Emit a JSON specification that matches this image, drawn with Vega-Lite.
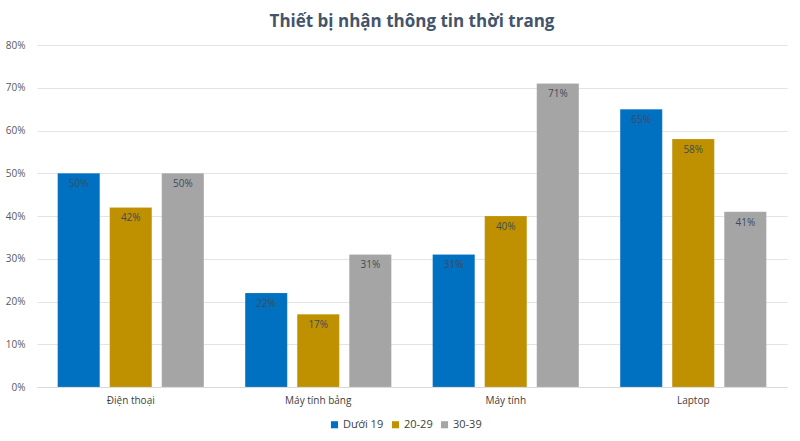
{
  "$schema": "https://vega.github.io/schema/vega-lite/v6.json",
  "autosize": "none",
  "width": 750,
  "height": 342,
  "padding": {"left": 37, "top": 45, "right": 13, "bottom": 54},
  "background": "white",
  "title": {
    "text": "Thiết bị nhận thông tin thời trang",
    "font": "Open Sans",
    "fontSize": 17,
    "fontWeight": "bold",
    "color": "#44546A",
    "anchor": "middle",
    "frame": "group",
    "offset": 9
  },
  "config": {
    "view": {"stroke": null},
    "font": "Open Sans"
  },
  "data": {
    "values": [
      {"device": "Điện thoại", "group": "Dưới 19", "value": 0.50},
      {"device": "Điện thoại", "group": "20-29", "value": 0.42},
      {"device": "Điện thoại", "group": "30-39", "value": 0.50},
      {"device": "Máy tính bảng", "group": "Dưới 19", "value": 0.22},
      {"device": "Máy tính bảng", "group": "20-29", "value": 0.17},
      {"device": "Máy tính bảng", "group": "30-39", "value": 0.31},
      {"device": "Máy tính", "group": "Dưới 19", "value": 0.31},
      {"device": "Máy tính", "group": "20-29", "value": 0.40},
      {"device": "Máy tính", "group": "30-39", "value": 0.71},
      {"device": "Laptop", "group": "Dưới 19", "value": 0.65},
      {"device": "Laptop", "group": "20-29", "value": 0.58},
      {"device": "Laptop", "group": "30-39", "value": 0.41}
    ]
  },
  "encoding": {
    "x": {
      "field": "device",
      "type": "nominal",
      "sort": ["Điện thoại", "Máy tính bảng", "Máy tính", "Laptop"],
      "scale": {"paddingInner": 0.22, "paddingOuter": 0.11},
      "axis": {
        "title": null,
        "labelAngle": 0,
        "labelFontSize": 10,
        "labelColor": "#404040",
        "labelPadding": 8,
        "ticks": false,
        "domainColor": "#d9d9d9",
        "grid": false
      }
    },
    "xOffset": {
      "field": "group",
      "type": "nominal",
      "sort": ["Dưới 19", "20-29", "30-39"],
      "scale": {"paddingInner": 0.19, "paddingOuter": 0}
    },
    "y": {
      "field": "value",
      "type": "quantitative",
      "scale": {"domain": [0, 0.8]},
      "axis": {
        "title": null,
        "format": ".0%",
        "values": [0, 0.1, 0.2, 0.3, 0.4, 0.5, 0.6, 0.7, 0.8],
        "labelOverlap": false,
        "labelFontSize": 10,
        "labelColor": "#595959",
        "labelPadding": 12,
        "ticks": false,
        "domain": false,
        "gridColor": "#e3e3e3",
        "gridWidth": 1
      }
    }
  },
  "layer": [
    {
      "mark": {"type": "bar", "stroke": "white", "strokeOpacity": 0.3, "strokeWidth": 0.5},
      "encoding": {
        "color": {
          "field": "group",
          "type": "nominal",
          "sort": ["Dưới 19", "20-29", "30-39"],
          "scale": {"domain": ["Dưới 19", "20-29", "30-39"], "range": ["#0070C0", "#BF9000", "#A5A5A5"]},
          "legend": {
            "title": null,
            "orient": "none",
            "legendX": 292,
            "legendY": 374,
            "direction": "horizontal",
            "symbolType": "square",
            "symbolSize": 50,
            "symbolStrokeWidth": 0,
            "labelFontSize": 11,
            "labelColor": "#404040",
            "columnPadding": 6,
            "labelOffset": 3
          }
        }
      }
    },
    {
      "mark": {"type": "text", "baseline": "top", "dy": 6, "fontSize": 10, "color": "#404b5a"},
      "encoding": {
        "text": {"field": "value", "type": "quantitative", "format": ".0%"}
      }
    }
  ]
}
